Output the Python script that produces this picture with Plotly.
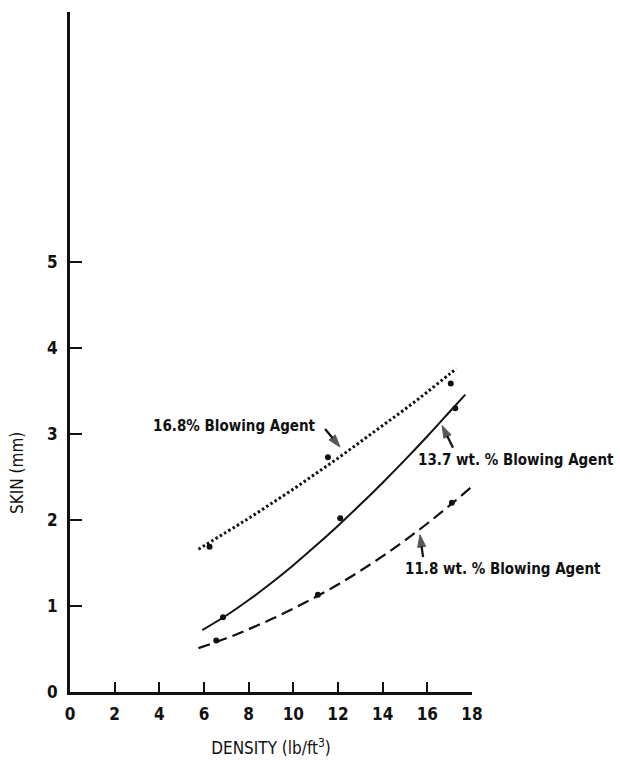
import plotly.graph_objects as go

# Smoothed curves (density in lb/ft^3, skin thickness in mm)
dotted_x = [5.75, 7, 8, 9, 10, 11, 12, 13, 14, 15, 16, 17, 17.3]
dotted_y = [1.66, 1.86, 2.02, 2.19, 2.36, 2.54, 2.72, 2.91, 3.10, 3.29, 3.49, 3.70, 3.76]

solid_x = [5.92, 7, 8, 9, 10, 11, 12, 13, 14, 15, 16, 17, 17.7]
solid_y = [0.72, 0.89, 1.07, 1.265, 1.475, 1.70, 1.935, 2.18, 2.435, 2.70, 2.975, 3.26, 3.46]

dashed_x = [5.75, 7, 8, 9, 10, 11, 12, 13, 14, 15, 16, 17, 18]
dashed_y = [0.51, 0.625, 0.73, 0.845, 0.97, 1.105, 1.25, 1.41, 1.58, 1.765, 1.96, 2.17, 2.39]

# Measured points
pts_168_x = [6.25, 11.55, 17.05]
pts_168_y = [1.69, 2.73, 3.59]
pts_137_x = [6.85, 12.1, 17.25]
pts_137_y = [0.87, 2.02, 3.30]
pts_118_x = [6.55, 11.1, 17.1]
pts_118_y = [0.60, 1.13, 2.20]

x_ticks = [0, 2, 4, 6, 8, 10, 12, 14, 16, 18]
y_ticks = [0, 1, 2, 3, 4, 5]

FONT = "DejaVu Sans Condensed, Liberation Sans Narrow, sans-serif"
INK = "#111111"

fig = go.Figure()

fig.add_trace(go.Scatter(x=dotted_x, y=dotted_y, mode="lines",
                         line=dict(color=INK, width=3, dash="2.5px,2.5px", shape="spline"),
                         hoverinfo="skip"))
fig.add_trace(go.Scatter(x=solid_x, y=solid_y, mode="lines",
                         line=dict(color=INK, width=2, shape="spline"),
                         hoverinfo="skip"))
fig.add_trace(go.Scatter(x=dashed_x, y=dashed_y, mode="lines",
                         line=dict(color=INK, width=2.2, dash="12px,6px", shape="spline"),
                         hoverinfo="skip"))

for px, py in [(pts_168_x, pts_168_y), (pts_137_x, pts_137_y), (pts_118_x, pts_118_y)]:
    fig.add_trace(go.Scatter(x=px, y=py, mode="markers",
                             marker=dict(color=INK, size=6), hoverinfo="skip"))

labels = [
    # text, x, y, xanchor, tail(x, y), head(x, y)
    ("16.8% Blowing Agent", 11.1, 3.09, "right", (11.42, 3.06), (12.09, 2.85)),
    ("13.7 wt. % Blowing Agent", 15.5, 2.70, "left", (17.15, 2.84), (16.66, 3.10)),
    ("11.8 wt. % Blowing Agent", 14.91, 1.43, "left", (15.81, 1.57), (15.67, 1.83)),
]
annotations = []
for text, tx, ty, anchor, tail, head in labels:
    annotations.append(dict(x=tx, y=ty, xref="x", yref="y", text=text, showarrow=False,
                            xanchor=anchor, yanchor="middle",
                            font=dict(family=FONT, size=15, color=INK, weight="bold")))
    # pointer: a short line with an arrow head at the curve end
    fig.add_trace(go.Scatter(x=[tail[0], head[0]], y=[tail[1], head[1]], mode="lines+markers",
                             line=dict(color=INK, width=2.2),
                             marker=dict(symbol="arrow", angleref="previous", size=[0, 13],
                                         color=INK, line=dict(color=INK, width=1)),
                             hoverinfo="skip"))

annotations.append(dict(x=-0.132, y=0.322, xref="paper", yref="paper", text="SKIN (mm)",
                        textangle=-90, showarrow=False, xanchor="center", yanchor="middle",
                        font=dict(family=FONT, size=17, color=INK)))

fig.update_layout(
    width=620, height=761,
    margin=dict(l=70, r=148, t=12, b=69),
    paper_bgcolor="white", plot_bgcolor="white",
    showlegend=False,
    annotations=annotations,
    xaxis=dict(range=[0, 18], tickvals=x_ticks, ticks="inside", ticklen=10, tickwidth=2,
               tickcolor=INK, showline=True, linewidth=3, linecolor=INK, showgrid=False,
               zeroline=False, ticklabelstandoff=5, automargin=False,
               tickfont=dict(family=FONT, size=17, color=INK, weight="bold"),
               title=dict(text="DENSITY (lb/ft<sup>3</sup>)", standoff=19,
                          font=dict(family=FONT, size=17, color=INK))),
    yaxis=dict(range=[0, 7.91], tickvals=y_ticks, ticks="inside", ticklen=12, tickwidth=2,
               tickcolor=INK, showline=True, linewidth=3, linecolor=INK, showgrid=False,
               zeroline=False, ticklabelstandoff=6, automargin=False,
               tickfont=dict(family=FONT, size=17, color=INK, weight="bold")),
)

fig.write_html("out.html")
